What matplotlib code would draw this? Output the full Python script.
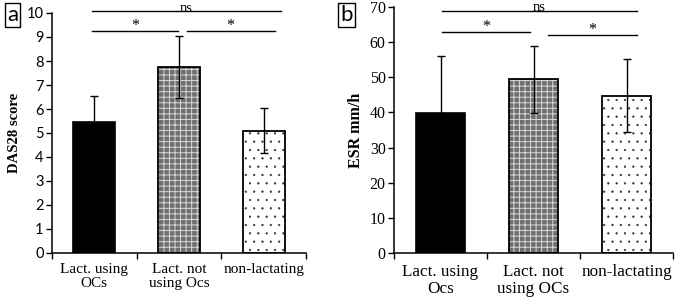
import matplotlib
matplotlib.use("Agg")
import matplotlib.pyplot as plt

categories_a = ["Lact. using\nOCs", "Lact. not\nusing Ocs", "non-lactating"]
das28_mean = [5.45, 7.75, 5.1]
das28_err = [1.1, 1.3, 0.95]

categories_b = ["Lact. using\nOcs", "Lact. not\nusing OCs", "non-lactating"]
esr_mean = [39.8, 49.4, 44.8]
esr_err = [16.2, 9.6, 10.5]

# significance brackets: (x start, x end, y, label)
sig_a = [(-0.03, 2.2, 10.1, "ns"), (-0.03, 0.99, 9.25, "*"), (1.09, 2.13, 9.25, "*")]
sig_b = [(0.02, 2.11, 69.0, "ns"), (0.02, 0.96, 63.0, "*"), (1.16, 2.11, 62.0, "*")]

W, H = 685, 302
fig = plt.figure(figsize=(W / 100, H / 100), dpi=100)

serif = "Liberation Serif"
sans = "Lato"


def draw_panel(ax, cats, means, errs, ymax, ystep, ylabel, sig,
               tickfont, tick_fs, cat_fs, lab_fs, bw, cat_pad):
    x = list(range(len(cats)))
    # black bar
    ax.bar(0, means[0], width=bw, color="black", edgecolor="black", linewidth=1.2)
    # grey checkered bar
    plt.rcParams['hatch.linewidth'] = 0.7
    ax.bar(1, means[1], width=bw, color="#6f6f6f", edgecolor="#d8d8d8",
           hatch="+++", linewidth=0)
    ax.bar(1, means[1], width=bw, fill=False, edgecolor="black", linewidth=1.3)
    # dotted bar
    plt.rcParams['hatch.linewidth'] = 0.4
    ax.bar(2, means[2], width=bw, color="white", edgecolor="#333333",
           hatch="..", linewidth=0)
    ax.bar(2, means[2], width=bw, fill=False, edgecolor="black", linewidth=1.3)
    ax.errorbar(x, means, yerr=errs, fmt="none", ecolor="black",
                elinewidth=1.0, capsize=3, capthick=1.0)
    ax.set_xlim(-0.5, len(cats) - 0.5)
    ax.set_ylim(0, ymax)
    ax.set_yticks([v * ystep for v in range(int(ymax / ystep) + 1)])
    ax.set_xticks([-0.5, 0.5, 1.5, 2.5])
    ax.set_xticklabels([])
    ax.set_xticks(x, minor=True)
    ax.set_xticklabels(cats, minor=True, fontfamily=serif, fontsize=cat_fs,
                       linespacing=1.1)
    ax.tick_params(axis="x", which="minor", length=0, pad=cat_pad)
    ax.tick_params(axis="x", which="major", length=4, width=1)
    ax.tick_params(axis="y", length=4, width=1, pad=2)
    for t in ax.get_yticklabels():
        t.set_fontfamily(tickfont)
        t.set_fontsize(tick_fs)
    ax.spines["top"].set_visible(False)
    ax.spines["right"].set_visible(False)
    ax.spines["left"].set_linewidth(1.1)
    ax.spines["bottom"].set_linewidth(1.1)
    ax.set_ylabel(ylabel, fontfamily=serif, fontweight="bold", fontsize=lab_fs,
                  labelpad=4)
    for x0, x1, y, lab in sig:
        ax.plot([x0, x1], [y, y], color="black", lw=1.0, clip_on=False)
        if lab == "ns":
            ax.text((x0 + x1) / 2, y - ymax * 0.004, lab, ha="center",
                    va="baseline", fontfamily=serif, fontsize=10.5, clip_on=False)
        else:
            ax.text((x0 + x1) / 2, y - ymax * 0.012, lab, ha="center",
                    va="bottom", fontfamily=serif, fontsize=11.5, clip_on=False)


ax1 = fig.add_axes([52 / W, 49 / H, 254 / W, 240 / H])
draw_panel(ax1, categories_a, das28_mean, das28_err, 10, 1, "DAS28 score",
           sig_a, sans, 10.5, 11, 10.5, 0.5, 7)

ax2 = fig.add_axes([394 / W, 49 / H, 279 / W, 246 / H])
draw_panel(ax2, categories_b, esr_mean, esr_err, 70, 10, "ESR mm/h",
           sig_b, serif, 11.5, 12.3, 11.5, 0.52, 8)

box = dict(boxstyle="square,pad=0.1", facecolor="white", edgecolor="black", lw=1.0)
fig.text(12.5 / W, 1 - 15 / H, "a", ha="center", va="center", fontfamily=sans,
         fontsize=16, bbox=box)
fig.text(346.5 / W, 1 - 15 / H, "b", ha="center", va="center", fontfamily=sans,
         fontsize=16, bbox=box)

fig.savefig("out.png", dpi=100)
